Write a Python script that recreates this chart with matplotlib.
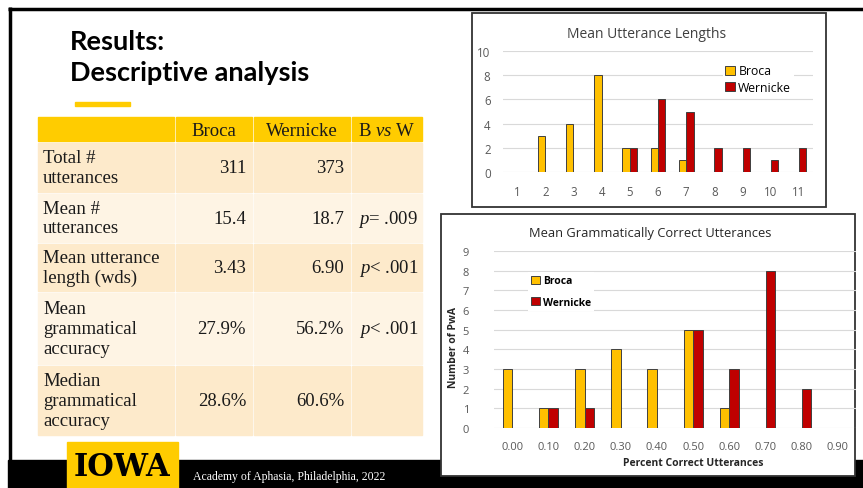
import numpy as np
import matplotlib
matplotlib.use("Agg")
import matplotlib.pyplot as plt
from matplotlib.patches import Rectangle

plt.rcParams['mathtext.fontset'] = 'custom'
plt.rcParams['mathtext.rm'] = 'Liberation Serif'
plt.rcParams['mathtext.it'] = 'Liberation Serif:italic'

# table contents
col_headers = ["Broca", "Wernicke", r"B $\mathit{vs}$ W"]
row_labels = ["Total #\nutterances", "Mean #\nutterances", "Mean utterance\nlength (wds)",
              "Mean\ngrammatical\naccuracy", "Median\ngrammatical\naccuracy"]
broca_stats = ["311", "15.4", "3.43", "27.9%", "28.6%"]
wernicke_stats = ["373", "18.7", "6.90", "56.2%", "60.6%"]
p_values = ["", "$p$= .009", "$p$< .001", "$p$< .001", ""]

# mean utterance length histogram
mlu_bins = [1, 2, 3, 4, 5, 6, 7, 8, 9, 10, 11]
mlu_broca = [0, 3, 4, 8, 2, 2, 1, 0, 0, 0, 0]
mlu_wernicke = [0, 0, 0, 0, 2, 6, 5, 2, 2, 1, 2]

# grammatical accuracy histogram
acc_bins = ["0.00", "0.10", "0.20", "0.30", "0.40", "0.50", "0.60", "0.70", "0.80", "0.90"]
acc_broca = [3, 1, 3, 4, 3, 5, 1, 0, 0, 0]
acc_wernicke = [0, 1, 1, 0, 0, 5, 3, 8, 2, 0]

gold = '#FFCC00'
broca_col = '#FFC000'
wern_col = '#C00000'
W, H = 863, 489

fig = plt.figure(figsize=(W/100, H/100), dpi=100)
bg = fig.add_axes([0, 0, 1, 1])
bg.set_xlim(0, W)
bg.set_ylim(H, 0)
bg.axis('off')

def px_axes(x0, x1, y0, y1):
    # axes placed by pixel box (y measured from top)
    return fig.add_axes([x0/W, 1 - y1/H, (x1 - x0)/W, (y1 - y0)/H])

# slide frame and footer
bg.plot([8, W], [10, 10], color='black', lw=2.5, solid_capstyle='butt')
bg.plot([9.5, 9.5], [8, 462], color='black', lw=2.5, solid_capstyle='butt')
bg.add_patch(Rectangle((8, 461), W - 8, 28, color='black'))
bg.add_patch(Rectangle((67, 443), 111, 46, color=gold))
bg.text(122, 467, "IOWA", ha='center', va='center', fontsize=22, fontweight='heavy',
        family='DejaVu Serif', color='black')
bg.text(193, 477, "Academy of Aphasia, Philadelphia, 2022", ha='left', va='center',
        fontsize=8.5, family='Liberation Serif', color='white')

# heading
bg.text(70, 42, "Results:", ha='left', va='center', fontsize=19.5, fontweight='bold', family='Lato')
bg.text(70, 73, "Descriptive analysis", ha='left', va='center', fontsize=19.5, fontweight='bold', family='Lato')
bg.add_patch(Rectangle((75, 103), 55, 3.5, color=gold))

# table
col_edges = [37, 175, 253, 351, 423]
row_edges = [118, 143, 194, 244, 293, 366, 437]
row_fill = ['#FDEACB', '#FEF4E4']
tkw = dict(fontsize=13.5, family='Liberation Serif', color='#1a1a1a', va='center')
for c in range(4):
    x0, x1 = col_edges[c], col_edges[c + 1]
    bg.add_patch(Rectangle((x0 + 1, row_edges[0]), x1 - x0 - 2, row_edges[1] - row_edges[0] - 1.5, color=gold))
for c, txt in enumerate(col_headers):
    xc = (col_edges[c + 1] + col_edges[c + 2]) / 2
    bg.text(xc, 131, txt, ha='center', **tkw)
for r in range(5):
    y0, y1 = row_edges[r + 1], row_edges[r + 2]
    for c in range(4):
        x0, x1 = col_edges[c], col_edges[c + 1]
        bg.add_patch(Rectangle((x0 + 1, y0 + 1), x1 - x0 - 2, y1 - y0 - 2, color=row_fill[r % 2]))
    yc = (y0 + y1) / 2
    bg.text(43, yc, row_labels[r], ha='left', linespacing=1.22, **tkw)
    bg.text(246, yc, broca_stats[r], ha='right', **tkw)
    bg.text(344, yc, wernicke_stats[r], ha='right', **tkw)
    bg.text(418, yc, p_values[r], ha='right', **tkw)

# chart boxes
bg.add_patch(Rectangle((472, 14), 354, 194, facecolor='white', edgecolor='#333333', lw=1.3))
bg.add_patch(Rectangle((441, 215), 414, 262, facecolor='white', edgecolor='#333333', lw=1.3))

tick_col = '#595959'
bar_w = 0.26

def style(ax, ymax, step, ypad, xpad, size):
    ax.set_facecolor('none')
    for s in ax.spines.values():
        s.set_visible(False)
    ax.set_ylim(0, ymax)
    ax.set_yticks(np.arange(0, ymax + 1, step))
    ax.grid(axis='y', color='#D9D9D9', lw=0.8)
    ax.set_axisbelow(True)
    ax.tick_params(length=0, labelsize=size, labelcolor=tick_col)
    ax.tick_params(axis='y', pad=ypad)
    ax.tick_params(axis='x', pad=xpad)
    for lab in ax.get_xticklabels() + ax.get_yticklabels():
        lab.set_family('Open Sans')

def white_legend(leg):
    fr = leg.get_frame()
    fr.set_edgecolor('none')
    fr.set_facecolor('white')
    fr.set_alpha(1)

# Mean Utterance Lengths
ax1 = px_axes(503, 813, 52, 173)
x1 = np.arange(len(mlu_bins))
ax1.bar(x1 - bar_w/2, mlu_broca, bar_w, color=broca_col, edgecolor='#404040', lw=0.7, label='Broca')
ax1.bar(x1 + bar_w/2, mlu_wernicke, bar_w, color=wern_col, edgecolor='#404040', lw=0.7, label='Wernicke')
ax1.set_xlim(-0.5, len(mlu_bins) - 0.5)
ax1.set_xticks(x1)
ax1.set_xticklabels([str(b) for b in mlu_bins])
style(ax1, 10, 2, 9, 9, 8.3)
leg1 = ax1.legend(loc='upper left', bbox_to_anchor=(0.69, 0.96), frameon=True,
                  handlelength=0.75, handleheight=0.75, handletextpad=0.3, labelspacing=0.3,
                  borderpad=0.2, fancybox=False, prop={'family': 'Open Sans', 'size': 8.8})
white_legend(leg1)
bg.text(647, 34, "Mean Utterance Lengths", ha='center', va='center', fontsize=10,
        family='Open Sans', color='#404040')

# Mean Grammatically Correct Utterances
ax2 = px_axes(494, 856, 252, 429)
x2 = np.arange(len(acc_bins))
ax2.bar(x2 - bar_w/2, acc_broca, bar_w, color=broca_col, edgecolor='#404040', lw=0.7, label='Broca')
ax2.bar(x2 + bar_w/2, acc_wernicke, bar_w, color=wern_col, edgecolor='#404040', lw=0.7, label='Wernicke')
ax2.set_xlim(-0.5, len(acc_bins) - 0.5)
ax2.set_xticks(x2)
ax2.set_xticklabels(acc_bins)
style(ax2, 9, 1, 18, 9, 8)
leg2 = ax2.legend(loc='upper left', bbox_to_anchor=(0.08, 0.91), frameon=True,
                  handlelength=0.8, handleheight=0.8, handletextpad=0.3, labelspacing=1.0,
                  borderpad=0.3, fancybox=False,
                  prop={'family': 'Open Sans', 'size': 7.5, 'weight': 'bold'})
white_legend(leg2)
bg.text(650, 234, "Mean Grammatically Correct Utterances", ha='center', va='center', fontsize=9.3,
        family='Open Sans', color='#262626')
bg.text(453, 347, "Number of PwA", ha='center', va='center', rotation=90, fontsize=7.5,
        fontweight='bold', family='Open Sans', color='#262626')
bg.text(693, 463, "Percent Correct Utterances", ha='center', va='center', fontsize=7.5,
        fontweight='bold', family='Open Sans', color='#262626')

fig.savefig('out.png', dpi=100)
